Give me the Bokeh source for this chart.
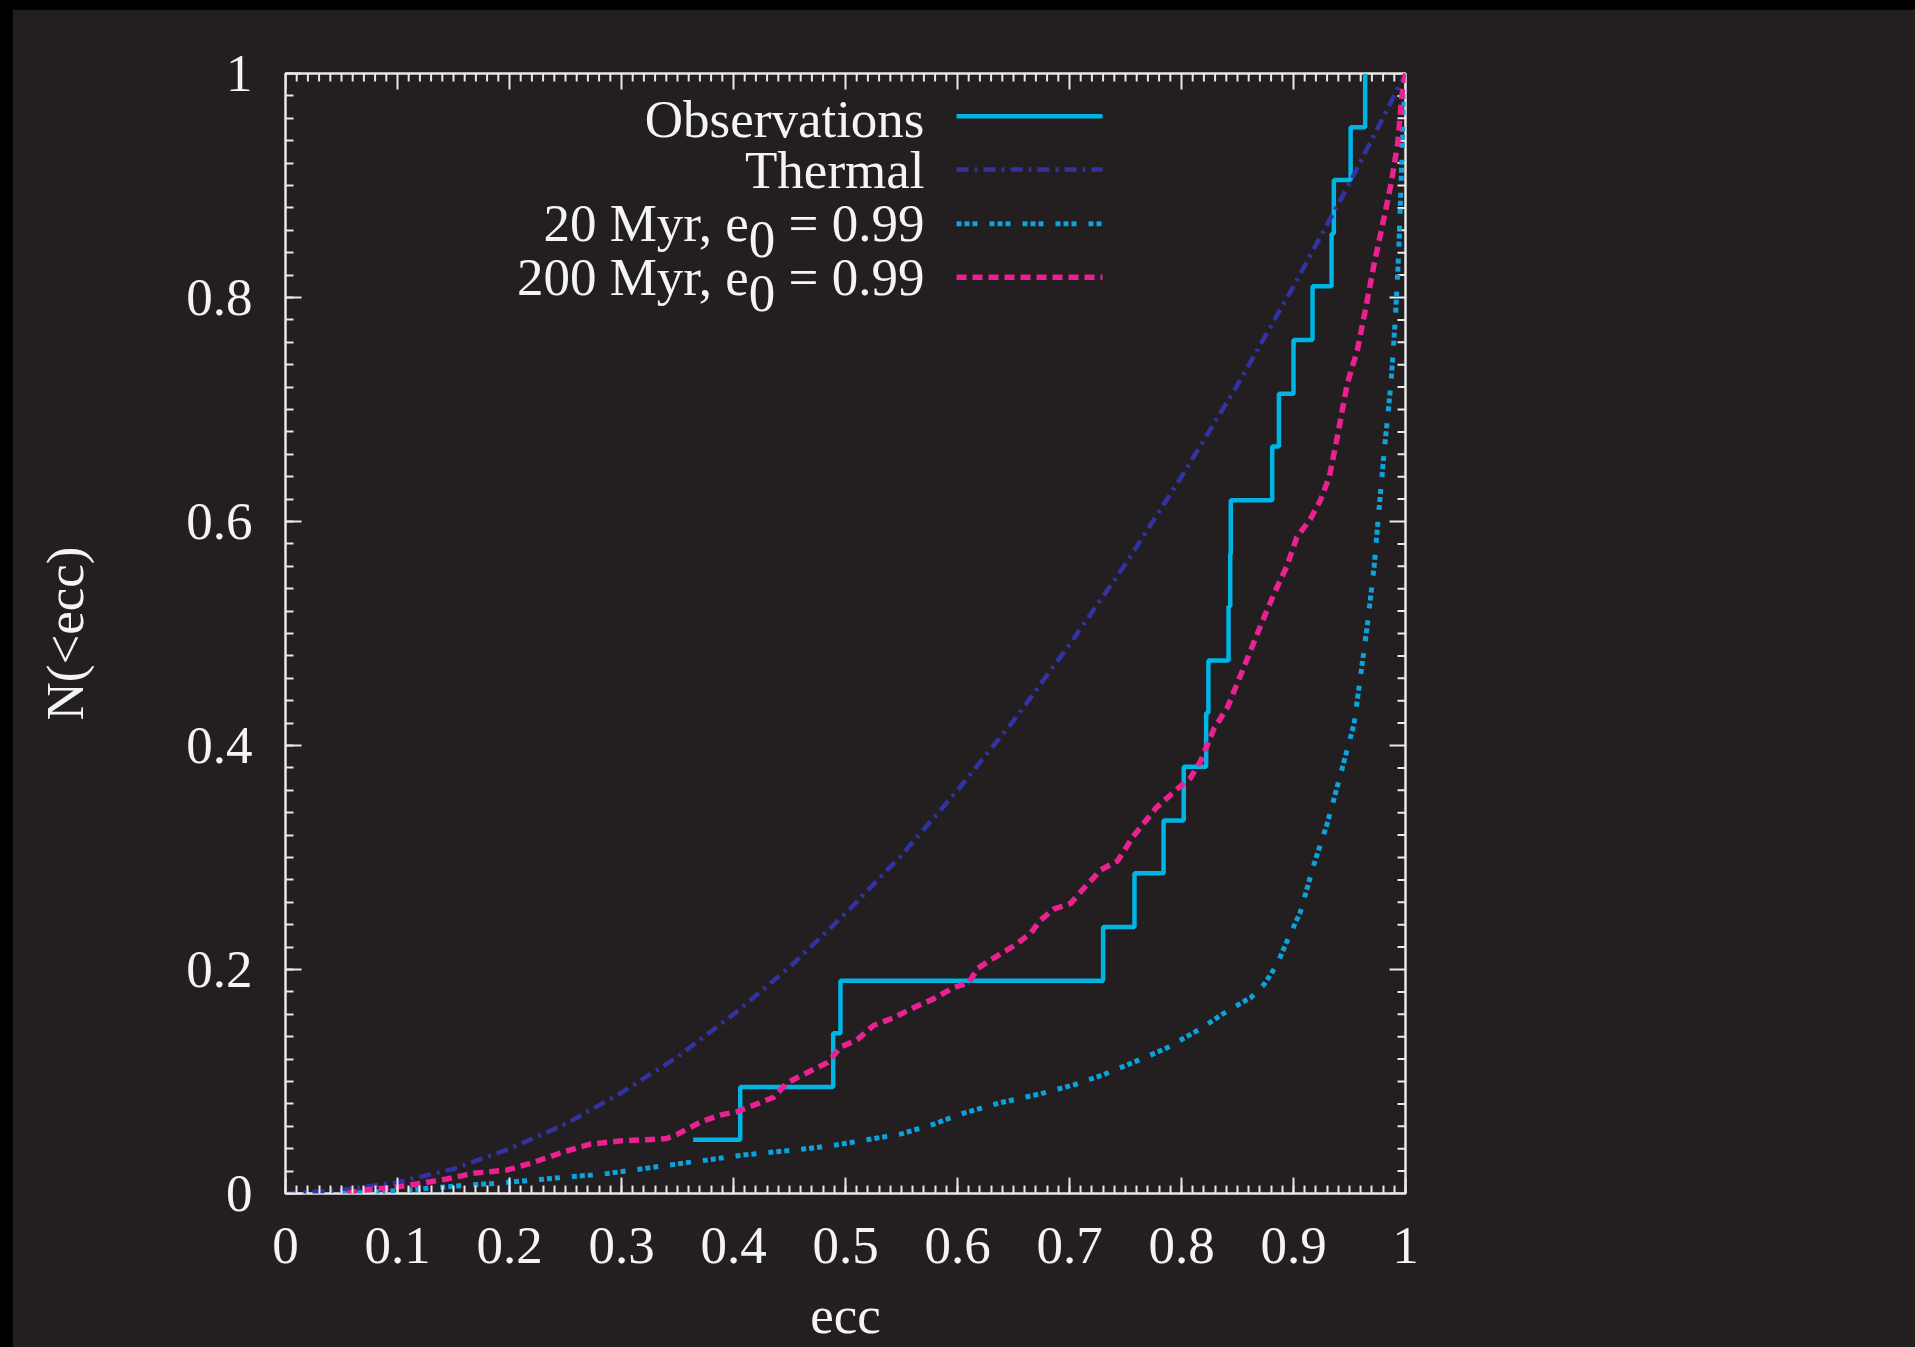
import numpy as np
from bokeh.plotting import figure
from bokeh.models import Range1d, FixedTicker, CustomJSTickFormatter
from bokeh.core.properties import value
from bokeh.embed import file_html
from bokeh.resources import INLINE

# ---------------- data ----------------
x_ticks = [0.0, 0.1, 0.2, 0.3, 0.4, 0.5, 0.6, 0.7, 0.8, 0.9, 1.0]
x_tick_labels = ["0", "0.1", "0.2", "0.3", "0.4", "0.5", "0.6", "0.7", "0.8", "0.9", "1"]
y_ticks = [0.0, 0.2, 0.4, 0.6, 0.8, 1.0]
y_tick_labels = ["0", "0.2", "0.4", "0.6", "0.8", "1"]

series_names = ["Observations", "Thermal", "20 Myr, e", "200 Myr, e"]

obs_ecc = [0.364, 0.406, 0.489, 0.4955, 0.730, 0.758, 0.784, 0.802, 0.822, 0.824,
           0.842, 0.8435, 0.844, 0.881, 0.887, 0.900, 0.917, 0.934, 0.936, 0.951, 0.964]
obs_n = [0.048, 0.095, 0.143, 0.190, 0.238, 0.286, 0.333, 0.381, 0.429, 0.476,
         0.524, 0.571, 0.619, 0.667, 0.714, 0.762, 0.810, 0.857, 0.905, 0.952, 1.000]

thermal_ecc = [0.00, 0.05, 0.10, 0.15, 0.20, 0.25, 0.30, 0.35, 0.40, 0.45, 0.50,
               0.55, 0.60, 0.65, 0.70, 0.75, 0.80, 0.85, 0.90, 0.95, 1.00]
thermal_n = [0.000, 0.003, 0.010, 0.022, 0.040, 0.062, 0.090, 0.122, 0.160, 0.202, 0.250,
             0.302, 0.360, 0.422, 0.490, 0.562, 0.640, 0.722, 0.810, 0.902, 1.000]

myr20_ecc = [0.050, 0.109, 0.132, 0.156, 0.186, 0.222, 0.254, 0.281, 0.311, 0.347,
             0.377, 0.406, 0.436, 0.466, 0.496, 0.525, 0.549, 0.579, 0.603, 0.638,
             0.674, 0.704, 0.730, 0.757, 0.787, 0.815, 0.841, 0.862, 0.874, 0.885,
             0.895, 0.906, 0.918, 0.930, 0.942, 0.954, 0.960, 0.966, 0.972, 0.976,
             0.981, 0.987, 0.991, 0.994, 0.996, 0.998, 1.000]
myr20_n = [0.000, 0.003, 0.005, 0.007, 0.009, 0.012, 0.015, 0.017, 0.021, 0.026,
           0.030, 0.034, 0.037, 0.040, 0.044, 0.049, 0.053, 0.062, 0.071, 0.081,
           0.089, 0.097, 0.106, 0.117, 0.130, 0.146, 0.163, 0.175, 0.187, 0.204,
           0.227, 0.251, 0.293, 0.330, 0.374, 0.419, 0.463, 0.508, 0.560, 0.607,
           0.663, 0.723, 0.782, 0.842, 0.901, 0.961, 1.000]

myr200_ecc = [0.055, 0.067, 0.094, 0.121, 0.144, 0.168, 0.198, 0.222, 0.248, 0.272,
              0.299, 0.323, 0.340, 0.350, 0.371, 0.388, 0.403, 0.421, 0.436, 0.448,
              0.466, 0.484, 0.496, 0.510, 0.525, 0.543, 0.561, 0.579, 0.597, 0.610,
              0.618, 0.632, 0.650, 0.665, 0.674, 0.686, 0.701, 0.715, 0.728, 0.743,
              0.757, 0.778, 0.796, 0.808, 0.817, 0.829, 0.841, 0.850, 0.859, 0.871,
              0.882, 0.894, 0.903, 0.915, 0.924, 0.932, 0.939, 0.948, 0.957, 0.964,
              0.972, 0.981, 0.987, 0.993, 0.997, 1.000]
myr200_n = [0.000, 0.003, 0.005, 0.009, 0.013, 0.018, 0.021, 0.028, 0.037, 0.044,
            0.047, 0.048, 0.049, 0.053, 0.064, 0.070, 0.073, 0.080, 0.086, 0.099,
            0.108, 0.117, 0.131, 0.137, 0.150, 0.157, 0.166, 0.174, 0.184, 0.188,
            0.201, 0.210, 0.221, 0.232, 0.244, 0.254, 0.259, 0.275, 0.289, 0.297,
            0.319, 0.345, 0.361, 0.371, 0.386, 0.415, 0.434, 0.456, 0.478, 0.508,
            0.534, 0.560, 0.586, 0.602, 0.619, 0.640, 0.675, 0.723, 0.753, 0.788,
            0.830, 0.872, 0.901, 0.937, 0.982, 1.000]

# ---------------- styles / layout ----------------
BG = "#231f20"
FG = "#e8e8e8"
TXT = "#f4f4f4"
C_OBS = "#00b4e4"
C_THERMAL = "#3232a2"
C_20 = "#0aa3de"
C_200 = "#ea2190"
FONT = "Liberation Serif"
FS = "53px"

PAD_L, PAD_T = 12, 9                   # black strip at left / top of the page
W, H = 1915 - PAD_L, 1347 - PAD_T
FL, FT, FSZ = 285, 73, 1120            # frame left/top/size in page pixels
FR, FB = FL + FSZ, FT + FSZ
MAJ, MIN = 16, 8                       # tick lengths (px)


def px_x(X):
    return (X - FL) / FSZ


def px_y(Y):
    return (FB - Y) / FSZ


p = figure(width=W, height=H, x_range=Range1d(0, 1), y_range=Range1d(0, 1),
           output_backend="svg", toolbar_location=None,
           min_border_left=FL - PAD_L, min_border_right=W - (FR - PAD_L),
           min_border_top=FT - PAD_T, min_border_bottom=H - (FB - PAD_T))
p.background_fill_color = BG
p.border_fill_color = BG
p.grid.visible = False
p.outline_line_color = FG
p.outline_line_width = 2.5

x_minor = [round(v, 2) for v in np.arange(0, 1.0001, 0.01)]
y_minor = [round(v, 2) for v in np.arange(0, 1.0001, 0.02)]
fmt = CustomJSTickFormatter(code="return String(Math.round(tick*100)/100)")


def style_axis(ax, ticks, minor, labels):
    ax.ticker = FixedTicker(ticks=ticks, minor_ticks=minor)
    ax.formatter = fmt
    ax.major_label_overrides = dict(zip(ticks, labels))
    ax.axis_line_color = None
    ax.major_tick_in = MAJ
    ax.major_tick_out = 0
    ax.minor_tick_in = MIN
    ax.minor_tick_out = 0
    ax.major_tick_line_color = FG
    ax.minor_tick_line_color = FG
    ax.major_tick_line_width = 2
    ax.minor_tick_line_width = 2
    ax.major_label_text_font = FONT
    ax.major_label_text_font_size = FS
    ax.major_label_text_color = TXT
    ax.axis_label_text_font = FONT
    ax.axis_label_text_font_size = FS
    ax.axis_label_text_font_style = "normal"
    ax.axis_label_text_color = TXT


style_axis(p.xaxis[0], x_ticks, x_minor, x_tick_labels)
style_axis(p.yaxis[0], y_ticks, y_minor, y_tick_labels)
p.xaxis[0].major_label_standoff = 34
p.yaxis[0].major_label_standoff = 33
p.xaxis[0].axis_label = "ecc"
p.xaxis[0].axis_label_standoff = 20
p.yaxis[0].axis_label = "N(<ecc)"
p.yaxis[0].axis_label_standoff = 89

# mirrored ticks on the top and right edges (inward)
tl_maj, tl_min = MAJ / FSZ, MIN / FSZ
x_min_only = [v for v in x_minor if all(abs(v - t) > 1e-9 for t in x_ticks)]
y_min_only = [v for v in y_minor if all(abs(v - t) > 1e-9 for t in y_ticks)]
p.segment(x0=x_ticks, y0=[1.0] * len(x_ticks), x1=x_ticks, y1=[1.0 - tl_maj] * len(x_ticks),
          line_color=FG, line_width=2)
p.segment(x0=x_min_only, y0=[1.0] * len(x_min_only), x1=x_min_only,
          y1=[1.0 - tl_min] * len(x_min_only), line_color=FG, line_width=2)
p.segment(x0=[1.0] * len(y_ticks), y0=y_ticks, x1=[1.0 - tl_maj] * len(y_ticks), y1=y_ticks,
          line_color=FG, line_width=2)
p.segment(x0=[1.0] * len(y_min_only), y0=y_min_only, x1=[1.0 - tl_min] * len(y_min_only),
          y1=y_min_only, line_color=FG, line_width=2)

# ---------------- curves ----------------
p.step(obs_ecc, obs_n, mode="after", line_color=C_OBS, line_width=4.5)
p.line(thermal_ecc, thermal_n, line_color=C_THERMAL, line_width=4.5, line_dash="12 6 3 6")
p.line(myr20_ecc, myr20_n, line_color=C_20, line_width=5, line_dash="5 3 5 3 5 12")
p.line(myr200_ecc, myr200_n, line_color=C_200, line_width=5.5, line_dash="10 6")

# ---------------- legend (text right-aligned, sample line on its right) ----------------
leg_colors = [C_OBS, C_THERMAL, C_20, C_200]
leg_dash = ["solid", "12 6 3 6", "5 3 5 3 5 12", "10 6"]
leg_width = [4.5, 4.5, 5, 5.5]
leg_line_y = [115.7, 169.0, 223.3, 276.7]
leg_text_y = [118.0, 169.0, 222.0, 276.0]   # vertical centre of the label text
LEG_TXT_R = 924
LEG_X0, LEG_X1 = 956, 1102
W_EQ = 135.9      # width of "= 0.99" at 53px (Times metrics)
W_SP = 13.25      # width of a space
W_SUB = 26.5      # width of "0"
SUB_DROP = 16.7

txt_x, txt_y, txt_s = [], [], []
for i, name in enumerate(series_names):
    p.line([px_x(LEG_X0), px_x(LEG_X1)], [px_y(leg_line_y[i])] * 2,
           line_color=leg_colors[i], line_width=leg_width[i], line_dash=leg_dash[i])
    if i < 2:
        txt_x.append(px_x(LEG_TXT_R)); txt_y.append(px_y(leg_text_y[i])); txt_s.append(name)
    else:
        txt_x.append(px_x(LEG_TXT_R)); txt_y.append(px_y(leg_text_y[i])); txt_s.append("= 0.99")
        txt_x.append(px_x(LEG_TXT_R - W_EQ - W_SP)); txt_y.append(px_y(leg_text_y[i] + SUB_DROP))
        txt_s.append("0")
        txt_x.append(px_x(LEG_TXT_R - W_EQ - W_SP - W_SUB)); txt_y.append(px_y(leg_text_y[i]))
        txt_s.append(name)

p.text(x=txt_x, y=txt_y, text=txt_s, text_align="right", text_baseline="middle",
       text_font=value(FONT), text_font_size=FS, text_color=TXT)

html = file_html(p, INLINE)
html = html.replace(
    "</head>",
    "<style>html, body { margin: 0 !important; overflow: hidden; background-color: #000000; }"
    " body { box-sizing: border-box; padding: %dpx 0 0 %dpx !important; }</style></head>" % (PAD_T, PAD_L),
    1)
open("out.html", "w").write(html)
